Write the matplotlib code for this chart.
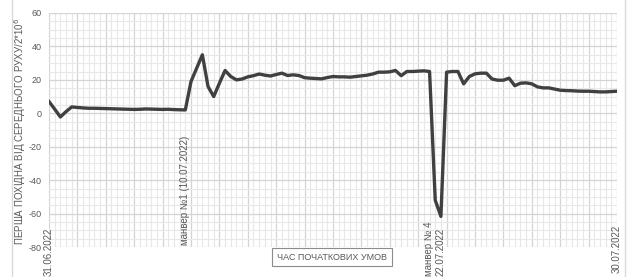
"""Перша похідна від середнього руху — відтворення графіка."""
import matplotlib

matplotlib.use("Agg")
import matplotlib.pyplot as plt
from matplotlib.patches import Rectangle
import numpy as np

FONT = ["Liberation Sans Narrow", "Liberation Sans", "DejaVu Sans"]
plt.rcParams["font.family"] = FONT
plt.rcParams["axes.unicode_minus"] = False

LINE = "#404040"
INK = "#595959"
GRID_MAJOR = "#d4d4d4"
GRID_MINOR = "#e8e8e8"

# значення похідної по порядку вимірювань (101 точка)
values = [
    7.0, 2.5, -2.2, 1.0, 3.8, 3.5, 3.2, 3.0, 3.0, 2.9,
    2.8, 2.7, 2.6, 2.5, 2.4, 2.3, 2.4, 2.6, 2.5, 2.4,
    2.3, 2.4, 2.2, 2.1, 2.0, 19.0, 27.0, 35.0, 16.0, 10.0,
    18.0, 25.6, 22.0, 20.0, 20.5, 21.8, 22.5, 23.5, 22.8, 22.3,
    23.2, 24.0, 22.6, 23.0, 22.6, 21.3, 21.0, 20.8, 20.6, 21.4,
    22.0, 21.8, 21.8, 21.6, 22.0, 22.4, 22.8, 23.5, 24.6, 24.6,
    24.8, 25.6, 22.5, 25.0, 25.0, 25.2, 25.4, 25.0, -52.0, -61.7,
    24.6, 25.0, 25.0, 17.6, 22.0, 23.6, 24.0, 24.0, 20.5, 19.8,
    19.8, 21.0, 16.5, 18.0, 18.2, 17.6, 15.8, 15.2, 15.2, 14.5,
    13.8, 13.6, 13.5, 13.3, 13.2, 13.2, 13.0, 12.8, 12.8, 13.0,
    13.2,
]

# підписи категорій (індекс точки -> текст)
label_idx = [0, 24, 68, 100]
label_text = ["31.06.2022", "манвер №1 (10.07.2022)", "манвер № 4\n22.07.2022", "30.07.2022"]
label_bottom_px = [276, 245, 276, 273]

y_ticks = [60, 40, 20, 0, -20, -40, -60, -80]
y_title = "ПЕРША ПОХІДНА ВІД СЕРЕДНЬОГО РУХУ/2*10$^{6}$"
x_title = "ЧАС ПОЧАТКОВИХ УМОВ"

W, H = 627, 277
fig = plt.figure(figsize=(W / 100, H / 100), dpi=100)
fig.patch.set_facecolor("white")

# рамка діаграми
fig.patches.append(Rectangle((12 / W, -0.05), (625 - 12) / W, 1.2, transform=fig.transFigure,
                             fill=False, edgecolor="#d9d9d9", linewidth=1))

ax = fig.add_axes([49 / W, 1 - 247 / H, 568 / W, 234 / H])
x = np.arange(len(values))
ax.plot(x, values, color=LINE, linewidth=2.4, solid_joinstyle="round", zorder=3)

ax.set_xlim(0, len(values) - 1)
ax.set_ylim(-80, 60)
ax.set_yticks(y_ticks)
ax.set_yticks(np.arange(-80, 61, 5), minor=True)
ax.set_xticks(np.arange(0, len(values), 5))
ax.set_xticks(np.arange(0, len(values), 1), minor=True)
ax.grid(which="minor", color=GRID_MINOR, linewidth=0.8)
ax.grid(which="major", color=GRID_MAJOR, linewidth=0.9)
ax.set_axisbelow(True)
ax.tick_params(which="both", length=0)
ax.tick_params(axis="y", colors=INK, labelsize=6.5, pad=5)
ax.set_xticklabels([])
for s in ax.spines.values():
    s.set_visible(False)

for i, t, b in zip(label_idx, label_text, label_bottom_px):
    xf = (49 + i * 568 / (len(values) - 1)) / W
    fig.text(xf, 1 - b / H, t, rotation=90, ha="center", va="bottom", fontsize=7,
             color=INK, linespacing=1.2, multialignment="left")

fig.text(20 / W, 1 - 131 / H, y_title, rotation=90, ha="center", va="center",
         fontsize=7, color=INK)
fig.text(332 / W, 1 - 257 / H, x_title, ha="center", va="center", fontsize=6.5, color=INK,
         bbox=dict(boxstyle="square,pad=0.5", facecolor="white", edgecolor="#8c8c8c", linewidth=0.8))

fig.savefig("out.png", dpi=100, facecolor="white")
plt.close(fig)
